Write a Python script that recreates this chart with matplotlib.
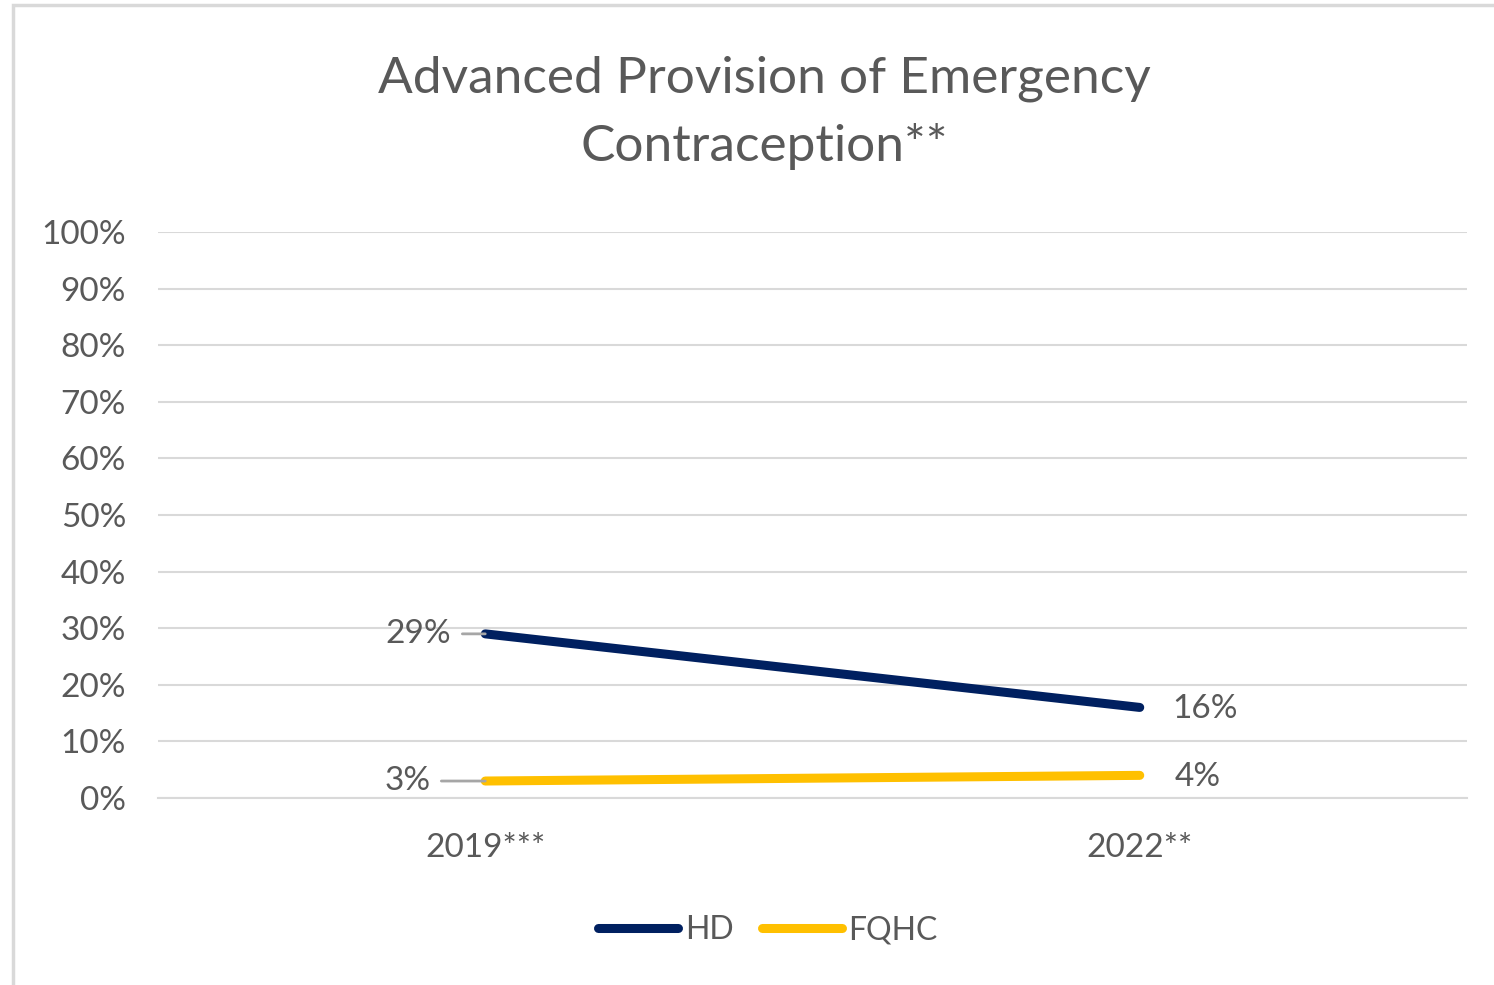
import matplotlib.pyplot as plt
from matplotlib.patches import Rectangle
from matplotlib.ticker import FuncFormatter

plt.rcParams['font.family'] = ['Lato', 'DejaVu Sans']

# Data
years = ['2019***', '2022**']
hd = [29, 16]
fqhc = [3, 4]

TEXT = '#595959'
GRID = '#D9D9D9'
NAVY = '#002060'
GOLD = '#FFC000'

fig = plt.figure(figsize=(14.94, 9.85), dpi=100)
ax = fig.add_axes([158 / 1494, 1 - 798 / 985, (1467 - 158) / 1494, (798 - 232) / 985])

# outer chart frame
fig.patches.append(Rectangle((13 / 1494, -0.05), 1.1, 1 - 5 / 985 + 0.05,
                             transform=fig.transFigure, fill=False,
                             edgecolor=GRID, linewidth=2.5))

x = list(range(len(years)))
ax.plot(x, hd, color=NAVY, linewidth=6.5, solid_capstyle='round', label='HD', zorder=3)
ax.plot(x, fqhc, color=GOLD, linewidth=6.5, solid_capstyle='round', label='FQHC', zorder=3)

# data labels (left ones carry a grey leader line)
def label(i, v, left, dx):
    if left:
        ax.annotate(f'{v}%', xy=(i, v), xytext=(-dx, 0), textcoords='offset pixels',
                    ha='right', va='center', fontsize=24, color=TEXT,
                    arrowprops=dict(arrowstyle='-', color='#A6A6A6', lw=2,
                                    shrinkA=6, shrinkB=0))
    else:
        ax.annotate(f'{v}%', xy=(i, v), xytext=(dx, -2), textcoords='offset pixels',
                    ha='left', va='center', fontsize=24, color=TEXT)

label(0, hd[0], True, 34)
label(0, fqhc[0], True, 55)
label(1, hd[1], False, 33)
label(1, fqhc[1], False, 35)

ax.set_xlim(-0.5, 1.5)
ax.set_ylim(0, 100)
ax.set_yticks(range(0, 101, 10))
ax.yaxis.set_major_formatter(FuncFormatter(lambda v, p: f'{int(v)}%'))
ax.set_xticks(x)
ax.set_xticklabels(years)
ax.tick_params(axis='both', length=0, labelsize=24, labelcolor=TEXT)
ax.tick_params(axis='y', pad=23)
ax.tick_params(axis='x', pad=25)
ax.grid(axis='y', color=GRID, linewidth=1.5)
ax.set_axisbelow(True)
for s in ['top', 'right', 'left']:
    ax.spines[s].set_visible(False)
ax.spines['bottom'].set_color(GRID)
ax.spines['bottom'].set_linewidth(1.5)

fig.text(764 / 1494, 1 - 113 / 985, 'Advanced Provision of Emergency\nContraception**',
         ha='center', va='center', fontsize=37, color=TEXT, linespacing=1.55)

leg = fig.legend(loc='center', bbox_to_anchor=(768 / 1494, 1 - 930 / 985), ncol=2,
                 frameon=False, fontsize=23, handlelength=2.5, handletextpad=0.2,
                 columnspacing=0.9)
for t in leg.get_texts():
    t.set_color(TEXT)

fig.savefig('out.png', dpi=100)
